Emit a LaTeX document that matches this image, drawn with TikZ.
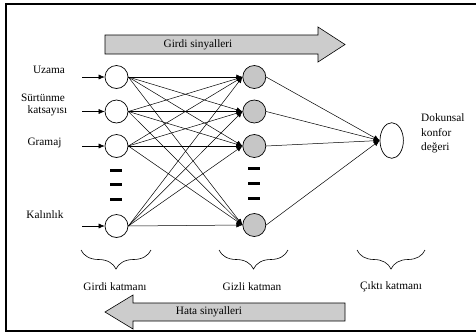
\documentclass[tikz,border=0pt]{standalone}
\usepackage{fontspec}
\setmainfont{Liberation Serif}
\usetikzlibrary{arrows.meta,decorations.pathreplacing,shapes.geometric}
\begin{document}
\begin{tikzpicture}[x=1pt,y=-1pt,
  neuron/.style={circle,draw,line width=0.7pt,minimum size=23pt,inner sep=0pt,fill=white},
  hid/.style={neuron,fill=gray!45},
  conn/.style={line width=0.5pt,-{Latex[length=6pt,width=5pt]}},
  lbl/.style={font=\fontsize{11.3}{13}\selectfont,inner sep=0pt},
  bigarrow/.style={draw,line width=0.6pt,fill=gray!40},
  brc/.style={decorate,decoration={brace,mirror,amplitude=19pt},line width=0.6pt}
]
\useasboundingbox (0,0) rectangle (476,333);
\draw[line width=2pt] (6,4) rectangle (482,331);

% big arrows
\draw[bigarrow] (105,35) -- (318,35) -- (318,27) -- (345,44.5) -- (318,62) -- (318,54) -- (105,54) -- cycle;
\node[lbl] (gs) at (198,44.5) {Girdi sinyalleri};
\draw[bigarrow] (345,303) -- (133,303) -- (133,295) -- (105,312) -- (133,329) -- (133,321) -- (345,321) -- cycle;
\node[lbl] (hs) at (209,312) {Hata sinyalleri};

% input layer
\node[neuron] (i1) at (116.5,77) {};
\node[neuron] (i2) at (116.5,111.5) {};
\node[neuron] (i3) at (116.5,146) {};
\node[neuron] (i4) at (116.5,226) {};
% hidden layer
\node[hid] (h1) at (254.3,77) {};
\node[hid] (h2) at (254.3,111.5) {};
\node[hid] (h3) at (254.3,146) {};
\node[hid] (h4) at (254.3,225) {};
% output
\node[ellipse,draw,line width=0.7pt,minimum width=23.4pt,minimum height=35.6pt,inner sep=0pt] (o) at (391.7,140.5) {};

% input free ends
\coordinate (c1) at (82,77);
\coordinate (c2) at (82,111.5);
\coordinate (c3) at (82,146);
\coordinate (c4) at (82,226);
\foreach \k in {1,2,3,4} {\draw[conn] (c\k) -- (i\k);}

\foreach \a in {1,2,3,4} {
  \foreach \b in {1,2,3,4} {
    \draw[conn] (i\a.east) -- (h\b.west);
  }
}
\foreach \b in {1,2,3,4} {\draw[conn] (h\b.east) -- (o.west);}

% dashes
\foreach \yy in {170,184.5,199} {\fill (110,\yy-1.5) rectangle (122,\yy+1.5);}
\foreach \yy in {168.5,183.5,198} {\fill (248,\yy-1.5) rectangle (260,\yy+1.5);}

% input labels
\node[lbl] (l1) at (49,69.5) {Uzama};
\node[lbl] (l2a) at (43,98) {Sürtünme};
\node[lbl] (l2b) at (47.5,111) {katsayısı};
\node[lbl] (l3) at (44.5,142.5) {Gramaj};
\node[lbl] (l4) at (45,215) {Kalınlık};

% output label
\node[lbl,anchor=west] (ol1) at (421,118) {Dokunsal};
\node[lbl,anchor=west] (ol2) at (421,133) {konfor};
\node[lbl,anchor=west] (ol3) at (421,147.5) {değeri};

% braces
\draw[brc] (81,250) -- (151,250);
\draw[brc] (219,250) -- (288,250);
\draw[brc] (357,250) -- (425,250);
\node[lbl] (t1) at (115,287) {Girdi katmanı};
\node[lbl] (t2) at (252,287) {Gizli katman};
\node[lbl] (t3) at (391,287) {Çıktı katmanı};
\end{tikzpicture}
\end{document}
